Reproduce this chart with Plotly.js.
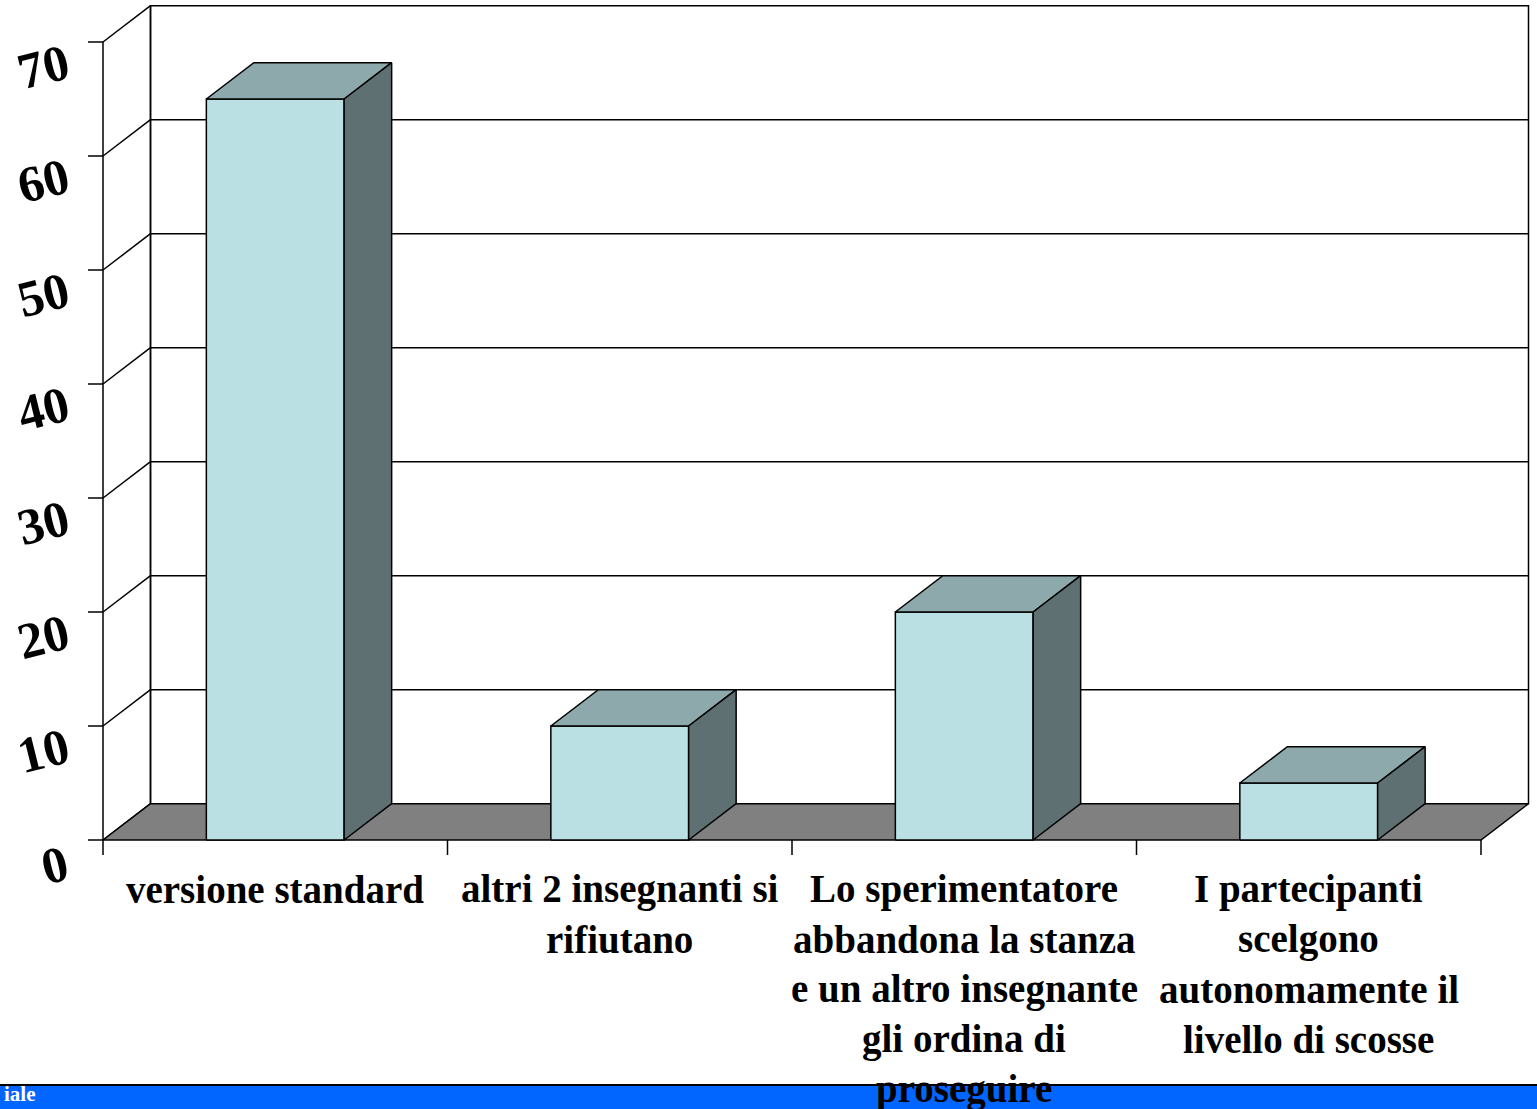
<!DOCTYPE html>
<html>
<head>
<meta charset="utf-8">
<script src="https://cdn.plot.ly/plotly-3.0.1.min.js"></script>
<style>html,body{margin:0;padding:0;background:#fff;}#chart{width:1537px;height:1109px;}</style>
</head>
<body>
<div id="chart"></div>
<script>
// ---- data ----
const categories = [
  "versione standard",
  "altri 2 insegnanti si<br>rifiutano",
  "Lo sperimentatore<br>abbandona la stanza<br>e un altro insegnante<br>gli ordina di<br>proseguire",
  "I partecipanti<br>scelgono<br>autonomamente il<br>livello di scosse"
];
const values = [65, 10, 20, 5];
const yTickValues = [0, 10, 20, 30, 40, 50, 60, 70];
const yTickLabels = ["0", "10", "20", "30", "40", "50", "60", "70"];
const footerText = "iale";

// ---- geometry (pixel mapping of the axes) ----
const W = 344.5;        // px per category
const X0PX = 103;       // front-left corner px
const Y0PX = 840;       // value 0 px
const UNIT = 11.4;      // px per value unit
const DX = 47.5 / W;    // depth offset in category units
const DY = 36.3 / UNIT; // depth offset in value units
const HALF = 0.2;       // half bar width (category units)
const YMAX = yTickValues[yTickValues.length - 1];
const n = categories.length;
const xl = -0.5, xr = n - 0.5;
const pxX = p => (p - X0PX) / W - 0.5;
const pxY = p => (Y0PX - p) / UNIT;

const LINE = {color: '#000', width: 1.5};
const traces = [];
function poly(xs, ys, fill, line) {
  traces.push({type: 'scatter', mode: 'lines', x: xs.concat([xs[0]]), y: ys.concat([ys[0]]),
    fill: 'toself', fillcolor: fill, line: line || LINE, hoverinfo: 'skip', showlegend: false});
}
function segs(list, line) {
  const xs = [], ys = [];
  list.forEach(s => { xs.push(s[0], s[2], null); ys.push(s[1], s[3], null); });
  traces.push({type: 'scatter', mode: 'lines', x: xs, y: ys, line: line || LINE,
    hoverinfo: 'skip', showlegend: false, connectgaps: false});
}

// back wall
poly([xl + DX, xr + DX, xr + DX, xl + DX], [DY, DY, YMAX + DY, YMAX + DY], '#ffffff');
// back gridlines, left wall diagonals, front axis
const g = [];
yTickValues.forEach(v => {
  if (v > 0 && v < YMAX) g.push([xl + DX, v + DY, xr + DX, v + DY]);
  g.push([xl, v, xl + DX, v + DY]);
});
g.push([xl, 0, xl, YMAX]);
g.push([xl + DX, DY, xl + DX, YMAX + DY]);
segs(g);
// floor
poly([xl, xr, xr + DX, xl + DX], [0, 0, DY, DY], '#808080');
// ticks
const t = [];
yTickValues.forEach(v => t.push([xl - 15 / W, v, xl, v]));
for (let i = 0; i <= n; i++) t.push([xl + i, 0, xl + i, -15 / UNIT]);
segs(t);
// bars
values.forEach((v, i) => {
  const a = i - HALF, b = i + HALF;
  poly([a, b, b, a], [0, 0, v, v], '#BBE0E3');
  poly([a, b, b + DX, a + DX], [v, v, v + DY, v + DY], '#8EA9AB');
  poly([b, b + DX, b + DX, b], [0, DY, v + DY, v], '#5F7073');
});

// annotations
const SERIF = 'Liberation Serif, Times New Roman, serif';
const ann = [];
yTickValues.forEach((v, k) => {
  ann.push({x: pxX(77), y: v - 25 / UNIT, xref: 'x', yref: 'y', text: '<b>' + yTickLabels[k] + '</b>',
    showarrow: false, xanchor: 'right', yanchor: 'middle', textangle: -14,
    font: {family: SERIF, size: 51, color: '#000'}});
});
categories.forEach((c, i) => {
  c.split('<br>').forEach((line, j) => {
    ann.push({x: i, y: pxY(889 + 50 * j), xref: 'x', yref: 'y', text: '<b>' + line + '</b>',
      showarrow: false, xanchor: 'center', yanchor: 'middle',
      font: {family: SERIF, size: 39, color: '#000'}});
  });
});
ann.push({x: pxX(3), y: pxY(1094), xref: 'x', yref: 'y', text: '<b>' + footerText + '</b>', showarrow: false,
  xanchor: 'left', yanchor: 'middle', borderpad: 0, font: {family: SERIF, size: 21, color: '#fff'}});

const layout = {
  width: 1537, height: 1109,
  margin: {l: 0, r: 0, t: 0, b: 0, pad: 0},
  paper_bgcolor: '#fff', plot_bgcolor: '#fff',
  xaxis: {range: [pxX(0), pxX(1537)], visible: false, fixedrange: true},
  yaxis: {range: [pxY(1109), pxY(0)], visible: false, fixedrange: true},
  showlegend: false,
  shapes: [
    {type: 'rect', xref: 'paper', yref: 'y', x0: 0, x1: 1, y0: pxY(1085), y1: pxY(1109),
      fillcolor: '#0066FF', line: {width: 0}, layer: 'above'},
    {type: 'line', xref: 'paper', yref: 'y', x0: 0, x1: 1, y0: pxY(1085), y1: pxY(1085),
      line: {color: '#000', width: 2}, layer: 'above'}
  ],
  annotations: ann
};
Plotly.newPlot('chart', traces, layout, {displayModeBar: false, staticPlot: true});
</script>
</body>
</html>
